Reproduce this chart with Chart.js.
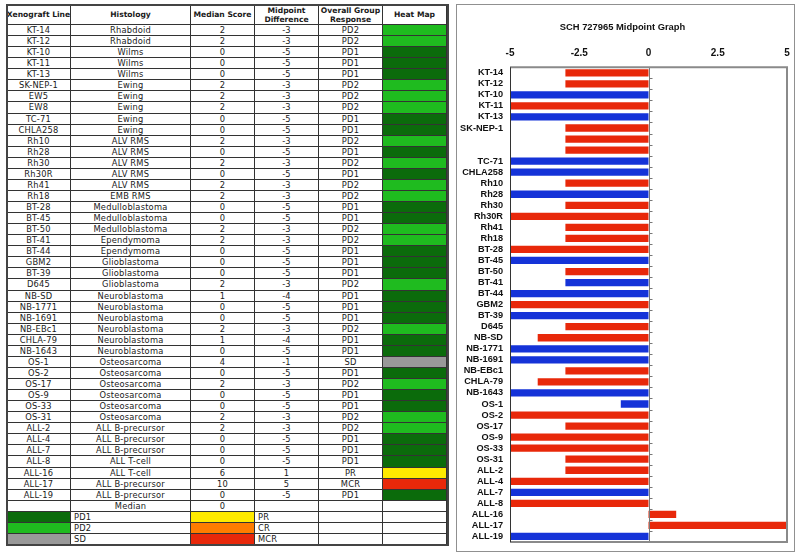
<!DOCTYPE html>
<html><head><meta charset="utf-8">
<script src="https://cdn.jsdelivr.net/npm/chart.js@4/dist/chart.umd.min.js"></script>
<style>
html,body{margin:0;padding:0;background:#fff;width:800px;height:556px;overflow:hidden;position:relative;}
.c{position:absolute;box-sizing:border-box;border-right:1px solid #333;border-bottom:1px solid #333;font-family:'DejaVu Sans',Verdana,sans-serif;font-size:8.3px;letter-spacing:0.2px;text-align:center;color:#1a1a1a;white-space:nowrap;overflow:hidden;}
.h{font-family:'DejaVu Sans',sans-serif;font-weight:bold;font-size:7.6px;letter-spacing:0;display:flex;align-items:center;justify-content:center;line-height:9px;}
.l{text-align:left;padding-left:3px;}
#frame{position:absolute;left:6px;top:4px;width:443px;height:542px;box-sizing:border-box;border:2px solid #444;pointer-events:none;}
#panel{position:absolute;left:456px;top:4px;width:339px;height:548px;box-sizing:border-box;border:1.5px solid #909090;}
#cv{position:absolute;left:458px;top:5px;}
</style>
</head><body>
<div id="tbl"></div>
<div id="frame"></div>
<div id="panel"></div>
<canvas id="cv" width="336" height="546"></canvas>
<script>
// ---------------- data ----------------
const lines = ['KT-14','KT-12','KT-10','KT-11','KT-13','SK-NEP-1','EW5','EW8','TC-71','CHLA258',
  'Rh10','Rh28','Rh30','Rh30R','Rh41','Rh18','BT-28','BT-45','BT-50','BT-41','BT-44','GBM2','BT-39','D645',
  'NB-SD','NB-1771','NB-1691','NB-EBc1','CHLA-79','NB-1643','OS-1','OS-2','OS-17','OS-9','OS-33','OS-31',
  'ALL-2','ALL-4','ALL-7','ALL-8','ALL-16','ALL-17','ALL-19'];
const histology = ['Rhabdoid','Rhabdoid','Wilms','Wilms','Wilms','Ewing','Ewing','Ewing','Ewing','Ewing',
  'ALV RMS','ALV RMS','ALV RMS','ALV RMS','ALV RMS','EMB RMS','Medulloblastoma','Medulloblastoma','Medulloblastoma',
  'Ependymoma','Ependymoma','Glioblastoma','Glioblastoma','Glioblastoma',
  'Neuroblastoma','Neuroblastoma','Neuroblastoma','Neuroblastoma','Neuroblastoma','Neuroblastoma',
  'Osteosarcoma','Osteosarcoma','Osteosarcoma','Osteosarcoma','Osteosarcoma','Osteosarcoma',
  'ALL B-precursor','ALL B-precursor','ALL B-precursor','ALL T-cell','ALL T-cell','ALL B-precursor','ALL B-precursor'];
const medianScore = [2,2,0,0,0,2,2,2,0,0, 2,0,2,0,2,2,0,0,2,2,0,0,0,2, 1,0,0,2,1,0, 4,0,2,0,0,2, 2,0,0,0,6,10,0];
const midpointDiff = [-3,-3,-5,-5,-5,-3,-3,-3,-5,-5, -3,-5,-3,-5,-3,-3,-5,-5,-3,-3,-5,-5,-5,-3, -4,-5,-5,-3,-4,-5, -1,-5,-3,-5,-5,-3, -3,-5,-5,-5,1,5,-5];
const response = ['PD2','PD2','PD1','PD1','PD1','PD2','PD2','PD2','PD1','PD1', 'PD2','PD1','PD2','PD1','PD2','PD2','PD1','PD1','PD2','PD2','PD1','PD1','PD1','PD2',
  'PD1','PD1','PD1','PD2','PD1','PD1', 'SD','PD1','PD2','PD1','PD1','PD2', 'PD2','PD1','PD1','PD1','PR','MCR','PD1'];
// bar colour group in the midpoint graph (R = red, B = blue)
const barGroup = ['R','R','B','R','B','R','R','R','B','B', 'R','B','R','R','R','R','R','B','R','B','B','R','B','R',
  'R','B','B','R','R','B', 'B','R','R','R','R','R', 'R','R','B','R','R','R','B'];
// category labels shown on the graph axis (EW5 / EW8 unlabeled in the original)
const chartLabels = ['KT-14','KT-12','KT-10','KT-11','KT-13','SK-NEP-1','','','TC-71','CHLA258',
  'Rh10','Rh28','Rh30','Rh30R','Rh41','Rh18','BT-28','BT-45','BT-50','BT-41','BT-44','GBM2','BT-39','D645',
  'NB-SD','NB-1771','NB-1691','NB-EBc1','CHLA-79','NB-1643','OS-1','OS-2','OS-17','OS-9','OS-33','OS-31',
  'ALL-2','ALL-4','ALL-7','ALL-8','ALL-16','ALL-17','ALL-19'];
const xTicks = [-5,-2.5,0,2.5,5];
const headers = ['Xenograft Line','Histology','Median Score','Midpoint<br>Difference','Overall Group<br>Response','Heat Map'];
const medianOfScores = 0;
const legendLeft = ['PD1','PD2','SD'];
const legendRight = ['PR','CR','MCR'];

// ---------------- styles ----------------
const respColor = {PD1:'#0b6b0b', PD2:'#1fbb1f', SD:'#999999', PR:'#ffea00', CR:'#ff7c00', MCR:'#e8280a'};
const groupColor = {R:'#e8280a', B:'#1533d8'};

// ---------------- table ----------------
const tbl = document.getElementById('tbl');
const xs = [7,71,191,255,319,383,447];
const top0 = 5, headH = 20, bottom = 545;
const nRows = lines.length + 1 + legendLeft.length;
const rowH = (bottom - (top0 + headH)) / nRows;
function cell(col, y, h, html, cls, bg){
  const d = document.createElement('div');
  d.className = 'c' + (cls ? ' ' + cls : '');
  d.style.left = xs[col] + 'px';
  d.style.width = (xs[col+1] - xs[col]) + 'px';
  d.style.top = y + 'px';
  d.style.height = h + 'px';
  if (!cls || cls.indexOf('h') < 0) d.style.lineHeight = (h - 1) + 'px';
  if (bg) d.style.background = bg;
  d.innerHTML = html;
  tbl.appendChild(d);
}
headers.forEach((t,j)=>cell(j, top0, headH, t, 'h'));
function rowY(i){ return Math.round(top0 + headH + i*rowH); }
function rowHt(i){ return rowY(i+1) - rowY(i); }
lines.forEach((ln,i)=>{
  const y = rowY(i), h = rowHt(i);
  cell(0,y,h,ln); cell(1,y,h,histology[i]); cell(2,y,h,String(medianScore[i]));
  cell(3,y,h,String(midpointDiff[i])); cell(4,y,h,response[i]); cell(5,y,h,'', '', respColor[response[i]]);
});
{ const i = lines.length, y = rowY(i), h = rowHt(i);
  cell(0,y,h,''); cell(1,y,h,'Median'); cell(2,y,h,String(medianOfScores)); cell(3,y,h,''); cell(4,y,h,''); cell(5,y,h,''); }
legendLeft.forEach((k,m)=>{
  const i = lines.length + 1 + m, y = rowY(i), h = rowHt(i);
  cell(0,y,h,'', '', respColor[k]); cell(1,y,h,k,'l');
  cell(2,y,h,'', '', respColor[legendRight[m]]); cell(3,y,h,legendRight[m],'l');
  cell(4,y,h,''); cell(5,y,h,'');
});

// ---------------- chart ----------------
const F = "'Liberation Sans',Arial,sans-serif";
const framePlugin = {
  id:'frame',
  afterDatasetsDraw(chart){
    const {ctx, chartArea:a, scales} = chart;
    ctx.save();
    const x0 = Math.round(scales.x.getPixelForValue(0)) + 0.5;
    ctx.strokeStyle = '#777'; ctx.lineWidth = 1;
    ctx.beginPath(); ctx.moveTo(x0, a.top); ctx.lineTo(x0, a.bottom);
    const n = chartLabels.length, step = (a.bottom - a.top)/n;
    for (let i=1;i<n;i++){ const yy = Math.round(a.top + i*step)+0.5; ctx.moveTo(x0,yy); ctx.lineTo(x0+3,yy); }
    ctx.stroke();
    ctx.strokeStyle = '#8a8a8a'; ctx.lineWidth = 2;
    ctx.beginPath();
    ctx.moveTo(a.left, a.top); ctx.lineTo(a.right, a.top); ctx.lineTo(a.right, a.bottom); ctx.lineTo(a.left, a.bottom);
    ctx.stroke();
    ctx.strokeStyle = '#333'; ctx.lineWidth = 1;
    ctx.beginPath(); ctx.moveTo(Math.round(a.left)+0.5, a.top); ctx.lineTo(Math.round(a.left)+0.5, a.bottom); ctx.stroke();
    ctx.restore();
  }
};
new Chart(document.getElementById('cv'), {
  type:'bar',
  data:{ labels: chartLabels,
    datasets:[{ data: midpointDiff, backgroundColor: barGroup.map(g=>groupColor[g]), barPercentage:0.66, categoryPercentage:1 }] },
  options:{
    indexAxis:'y', responsive:false, animation:false, devicePixelRatio:1,
    layout:{ padding:{ left:0, right:7, top:0, bottom:9 } },
    plugins:{
      legend:{display:false}, tooltip:{enabled:false},
      title:{ display:true, text:'SCH 727965 Midpoint Graph', color:'#111',
        font:{ family:F, size:9.4, weight:'bold' }, padding:{ top:17, bottom:10 } }
    },
    scales:{
      x:{ position:'top', min:xTicks[0], max:xTicks[xTicks.length-1],
        afterBuildTicks: s => { s.ticks = xTicks.map(v=>({value:v})); },
        ticks:{ color:'#111', font:{ family:F, size:10, weight:'bold' }, padding:8, callback: v => String(v), maxRotation:0 },
        grid:{ display:false, drawTicks:false }, border:{ display:false },
        afterFit: s => { s.height = 24; s.paddingLeft = 0; s.paddingRight = 0; } },
      y:{ ticks:{ color:'#111', font:{ family:F, size:9.2, weight:'bold' }, padding:7, autoSkip:false },
        grid:{ display:false, drawTicks:false }, border:{ display:false },
        afterFit: s => { s.width = 52; s.paddingTop = 0; s.paddingBottom = 0; } }
    }
  },
  plugins:[framePlugin]
});
</script>
</body></html>
